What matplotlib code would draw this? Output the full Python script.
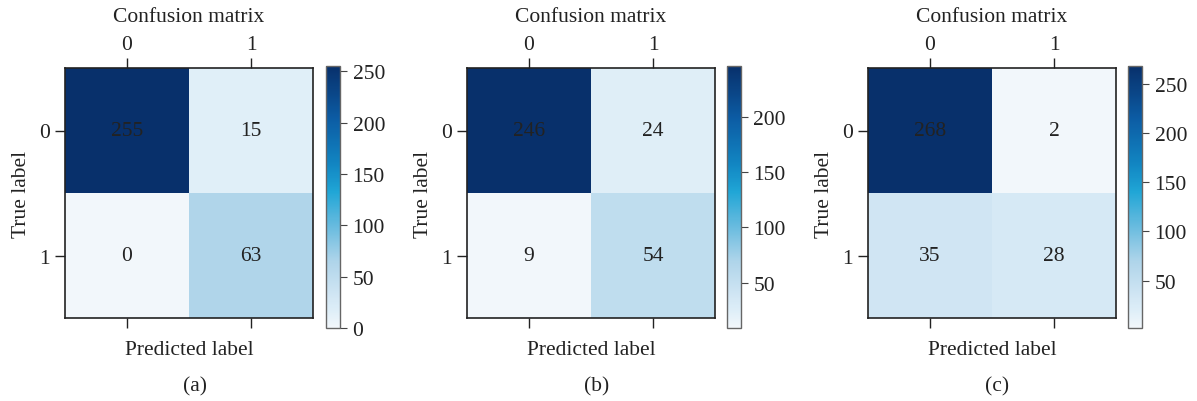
import numpy as np
import matplotlib
matplotlib.use("Agg")
import matplotlib.pyplot as plt
from matplotlib.colors import LinearSegmentedColormap

plt.rcParams['font.family'] = ['Liberation Serif', 'DejaVu Serif']

classes = ['0', '1']
cm_a = [[255, 15], [0, 63]]
cm_b = [[246, 24], [9, 54]]
cm_c = [[268, 2], [35, 28]]
captions = ['(a)', '(b)', '(c)']
matrices = [cm_a, cm_b, cm_c]

# Blues-like colormap matching the reference's slightly cyan tint
cmap = LinearSegmentedColormap.from_list('refblues', [
    (0.00, '#f2f7fb'),
    (0.06, '#e0eff8'),
    (0.12, '#d1e6f4'),
    (0.25, '#b0d5ea'),
    (0.40, '#62b9de'),
    (0.52, '#20a6d6'),
    (0.62, '#1287c3'),
    (0.80, '#0c5ca4'),
    (1.00, '#08306b'),
])

W, H = 1197, 402
fig = plt.figure(figsize=(W / 100, H / 100), dpi=100)

ax_left_px = [65, 467, 868]
cb_left_px = [326, 727, 1128]
ax_w_px, ax_top_px, ax_bot_px = 248, 69, 319
cb_w_px, cb_top_px, cb_bot_px = 14, 67, 329
cap_x_px = [195, 597, 997]

FS = 15.5
spine_col = '#222222'
txt_col = '#222222'

for i, cm in enumerate(matrices):
    cm = np.array(cm)
    ax = fig.add_axes([ax_left_px[i] / W, 1 - ax_bot_px / H, ax_w_px / W,
                       (ax_bot_px - ax_top_px) / H])
    im = ax.imshow(cm, cmap=cmap, interpolation='nearest', aspect='auto')
    ax.set_xticks(range(len(classes)))
    ax.set_yticks(range(len(classes)))
    ax.set_yticklabels(classes, fontsize=FS, color=txt_col)
    ax.tick_params(axis='x', top=True, bottom=True, labeltop=True,
                   labelbottom=False, length=7, width=1.0, color=spine_col,
                   labelsize=FS, labelcolor=txt_col, pad=3)
    ax.tick_params(axis='y', left=True, right=False, length=7, width=1.0,
                   color=spine_col, pad=4)
    ax.set_xticklabels(classes)
    for s in ax.spines.values():
        s.set_color(spine_col)
        s.set_linewidth(1.2)
    for r in range(cm.shape[0]):
        for c in range(cm.shape[1]):
            ax.text(c, r, str(cm[r, c]), ha='center', va='center',
                    fontsize=FS, color=txt_col)
    ax.text(0.5, 1.0 + (ax_top_px - 17) / (ax_bot_px - ax_top_px),
            'Confusion matrix', transform=ax.transAxes, ha='center',
            va='center', fontsize=FS, color=txt_col)
    ax.set_xlabel('Predicted label', fontsize=FS, color=txt_col, labelpad=9)
    ax.set_ylabel('True label', fontsize=FS, color=txt_col, labelpad=6)

    cax = fig.add_axes([cb_left_px[i] / W, 1 - cb_bot_px / H, cb_w_px / W,
                        (cb_bot_px - cb_top_px) / H])
    cb = fig.colorbar(im, cax=cax)
    cb.outline.set_edgecolor('#666666')
    cb.outline.set_linewidth(1.0)
    cax.tick_params(labelsize=FS, length=5, width=0.8, color='#444444',
                    labelcolor=txt_col, pad=4)

    fig.text(cap_x_px[i] / W, 1 - 387 / H, captions[i], ha='center',
             va='center', fontsize=FS, color=txt_col)

fig.savefig('out.png', dpi=100)
